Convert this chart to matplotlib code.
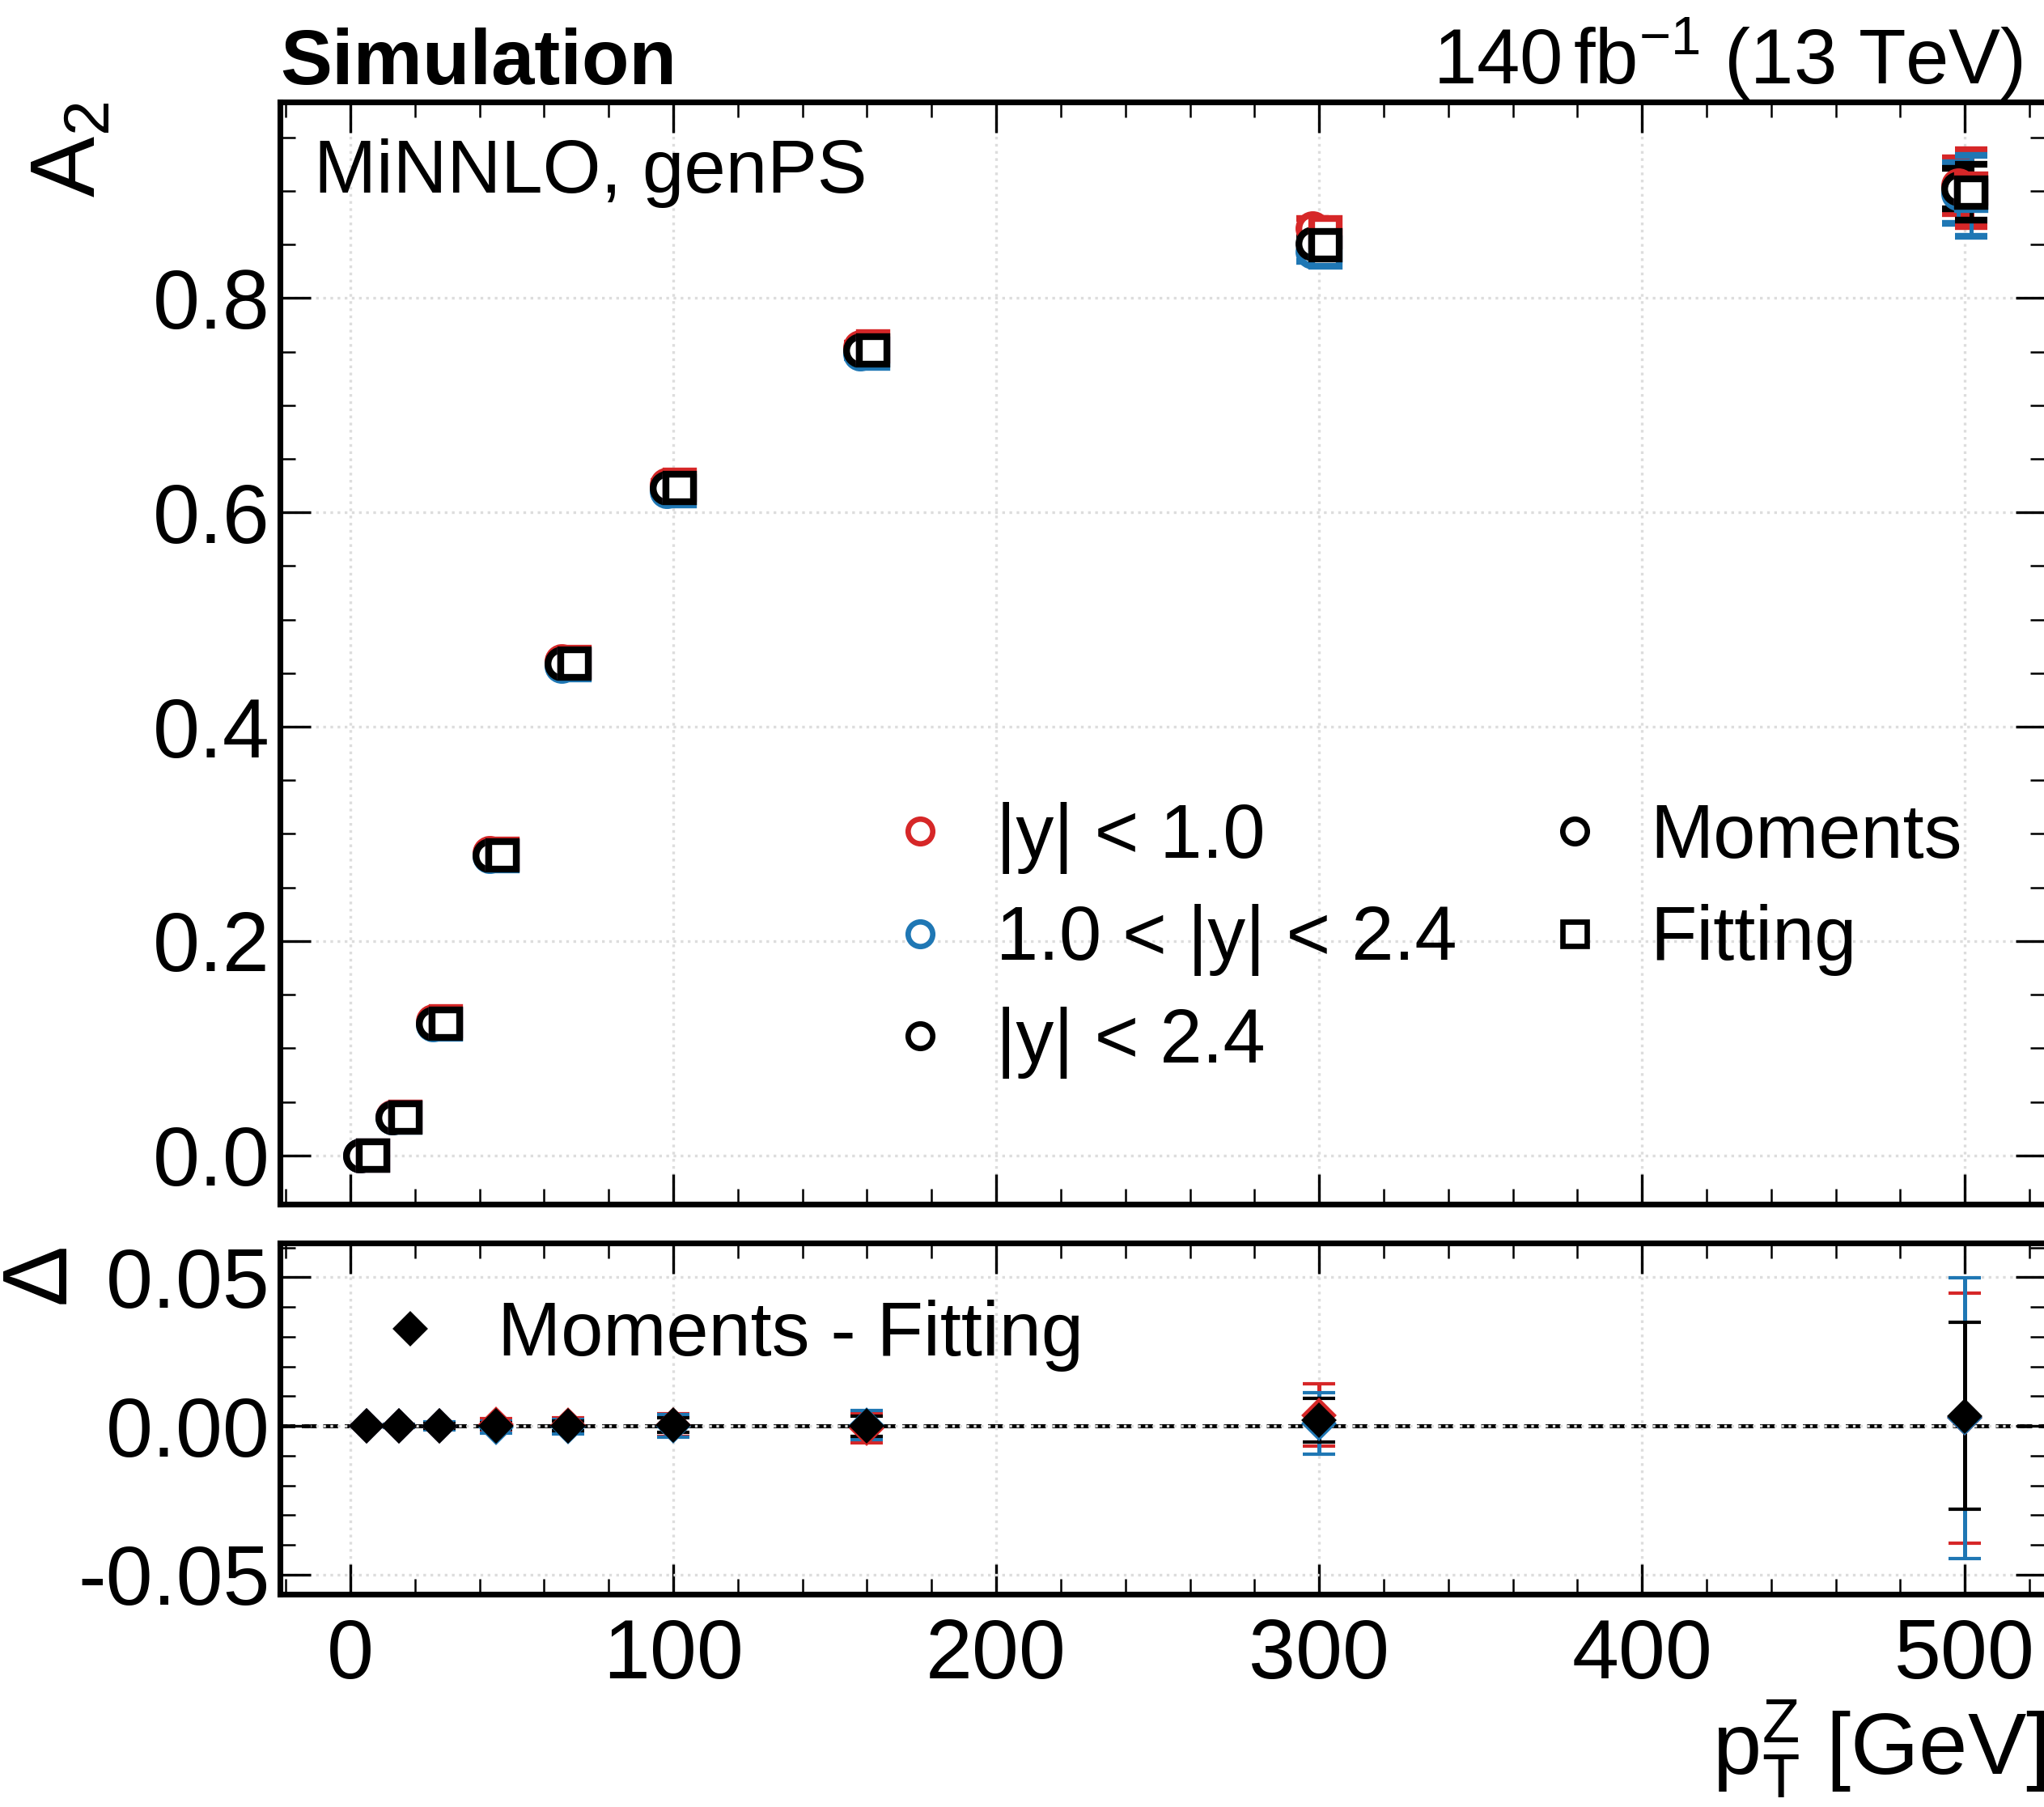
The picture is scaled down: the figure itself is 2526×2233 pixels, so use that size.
import numpy as np
import matplotlib
matplotlib.use("Agg")
import matplotlib.pyplot as plt
from matplotlib.lines import Line2D
from matplotlib.ticker import MultipleLocator, FormatStrFormatter

plt.rcParams["font.family"] = ["Liberation Sans", "DejaVu Sans"]
plt.rcParams["mathtext.fontset"] = "custom"
plt.rcParams["mathtext.rm"] = "Liberation Sans"
plt.rcParams["mathtext.it"] = "Liberation Sans"
plt.rcParams["mathtext.bf"] = "Liberation Sans:bold"
plt.rcParams["mathtext.default"] = "regular"
plt.rcParams["axes.unicode_minus"] = False

# pT(Z) bin centres [GeV]
pt_centers = [5, 15, 27.5, 45, 67.5, 100, 160, 300, 500]

rap_labels = ["|y| < 1.0", "1.0 < |y| < 2.4", "|y| < 2.4"]
rap_colors = ["#d62728", "#1f77b4", "black"]

# A2 extracted with moments
mom_central = [0.000, 0.036, 0.125, 0.282, 0.461, 0.626, 0.754, 0.865, 0.905]
mom_forward = [0.000, 0.035, 0.122, 0.279, 0.457, 0.620, 0.748, 0.843, 0.898]
mom_inclusive = [0.000, 0.035, 0.123, 0.280, 0.459, 0.623, 0.751, 0.851, 0.902]
err_mom_central = [0.0003, 0.0006, 0.0010, 0.0013, 0.0017, 0.0025, 0.004, 0.009, 0.026]
err_mom_forward = [0.0003, 0.0006, 0.0010, 0.0013, 0.0017, 0.0025, 0.004, 0.009, 0.028]
err_mom_inclusive = [0.0002, 0.0004, 0.0007, 0.0010, 0.0012, 0.0018, 0.003, 0.006, 0.019]

# A2 extracted with the template fit
fit_central = [0.000, 0.036, 0.125, 0.2815, 0.4608, 0.6257, 0.7548, 0.8614, 0.9024]
fit_forward = [0.000, 0.035, 0.122, 0.2795, 0.4572, 0.6200, 0.7478, 0.8422, 0.8954]
fit_inclusive = [0.000, 0.035, 0.123, 0.2800, 0.4590, 0.6228, 0.7511, 0.8491, 0.8986]
err_fit_central = [0.0003, 0.0006, 0.0010, 0.0013, 0.0017, 0.0025, 0.004, 0.011, 0.036]
err_fit_forward = [0.0003, 0.0006, 0.0010, 0.0013, 0.0017, 0.0025, 0.004, 0.011, 0.038]
err_fit_inclusive = [0.0002, 0.0004, 0.0007, 0.0010, 0.0012, 0.0018, 0.003, 0.008, 0.026]

# moments - fitting
diff_central = [0.0000, 0.0000, 0.0000, 0.0005, 0.0002, 0.0003, -0.0008, 0.0036, 0.0026]
diff_forward = [0.0000, 0.0000, 0.0000, -0.0005, -0.0002, 0.0000, 0.0002, 0.0008, 0.0026]
diff_inclusive = [0.0000, 0.0000, 0.0000, 0.0000, 0.0000, 0.0002, -0.0001, 0.0019, 0.0034]
err_diff_central = [0.0004, 0.0006, 0.0012, 0.0020, 0.0025, 0.0038, 0.0049, 0.0105, 0.0420]
err_diff_forward = [0.0004, 0.0006, 0.0013, 0.0020, 0.0025, 0.0038, 0.0049, 0.0103, 0.0472]
err_diff_inclusive = [0.0003, 0.0004, 0.0008, 0.0012, 0.0016, 0.0025, 0.0034, 0.0074, 0.0314]

W, H = 2526, 2233
fig = plt.figure(figsize=(W / 300, H / 300), dpi=300)
ax = fig.add_axes([346 / W, 1 - 1488 / H, (2528 - 346) / W, (1488 - 126) / H])
rax = fig.add_axes([346 / W, 1 - 1970 / H, (2528 - 346) / W, (1970 - 1536) / H], sharex=ax)

x = np.array(pt_centers)
shift = 2.0

mom_sets = [(mom_central, err_mom_central), (mom_forward, err_mom_forward), (mom_inclusive, err_mom_inclusive)]
fit_sets = [(fit_central, err_fit_central), (fit_forward, err_fit_forward), (fit_inclusive, err_fit_inclusive)]
diff_sets = [(diff_central, err_diff_central), (diff_forward, err_diff_forward), (diff_inclusive, err_diff_inclusive)]

for (vals, errs), col in zip(mom_sets, rap_colors):
    ax.errorbar(x - shift, vals, yerr=errs, fmt="o", ms=8.3, mew=2, mec=col, mfc="white",
                ecolor=col, elinewidth=1.2, capsize=4.8, capthick=2, zorder=3)
for (vals, errs), col in zip(fit_sets, rap_colors):
    ax.errorbar(x + shift, vals, yerr=errs, fmt="s", ms=8.3, mew=2, mec=col, mfc="white",
                ecolor=col, elinewidth=1.2, capsize=4.8, capthick=2, zorder=4)

rax.axhline(0, color="black", ls="--", lw=1.2, zorder=1)
for (vals, errs), col in zip(diff_sets, rap_colors):
    rax.errorbar(x, vals, yerr=errs, fmt="D", ms=6.3, mew=1, mec=col, mfc=col,
                 ecolor=col, elinewidth=1.2, capsize=4.8, capthick=1, zorder=3)

for a in (ax, rax):
    a.set_xlim(-21.8, 525)
    a.xaxis.set_major_locator(MultipleLocator(100))
    a.xaxis.set_minor_locator(MultipleLocator(20))
    a.tick_params(which="both", direction="in", top=True, right=True, labelsize=25)
    a.tick_params(which="major", length=9, width=0.8)
    a.tick_params(which="minor", length=4.5, width=0.6)
    a.tick_params(axis="x", pad=7)
    a.tick_params(axis="y", pad=3)
    a.grid(True, which="major", ls=":", lw=0.8, color="#dddddd", zorder=0)
    for s in a.spines.values():
        s.set_linewidth(1.7)

ax.set_ylim(-0.0455, 0.983)
ax.yaxis.set_major_locator(MultipleLocator(0.2))
ax.yaxis.set_minor_locator(MultipleLocator(0.05))
ax.yaxis.set_major_formatter(FormatStrFormatter("%.1f"))
ax.tick_params(axis="x", labelbottom=False)

rax.set_ylim(-0.0566, 0.0615)
rax.yaxis.set_major_locator(MultipleLocator(0.05))
rax.yaxis.set_minor_locator(MultipleLocator(0.01))
rax.yaxis.set_major_formatter(FormatStrFormatter("%.2f"))

ax.set_ylabel("$A_{2}$", fontsize=27, loc="top")
ax.yaxis.set_label_coords(-0.094, 1.0)
rax.set_ylabel("Δ", fontsize=27, loc="top")
rax.yaxis.set_label_coords(-0.111, 1.0)
rax.set_xlabel("$p_{T}^{Z}$ [GeV]", fontsize=26, loc="right")
rax.xaxis.set_label_coords(1.0, -0.295)

# legends
h_rap = [Line2D([], [], ls="none", marker="o", ms=7.3, mew=1.6, mec=c, mfc="white") for c in rap_colors]
leg1 = ax.legend(h_rap, rap_labels, loc="upper left", bbox_to_anchor=(1090 / W, 1 - 991 / H),
                 bbox_transform=fig.transFigure, frameon=False, fontsize=22.5, handlelength=1.0,
                 handletextpad=0.5, labelspacing=0.40, borderpad=0, borderaxespad=0)
ax.add_artist(leg1)
h_meth = [Line2D([], [], ls="none", marker="o", ms=7.3, mew=1.6, mec="black", mfc="white"),
          Line2D([], [], ls="none", marker="s", ms=7.3, mew=1.6, mec="black", mfc="white")]
ax.legend(h_meth, ["Moments", "Fitting"], loc="upper left", bbox_to_anchor=(1899 / W, 1 - 991 / H),
          bbox_transform=fig.transFigure, frameon=False, fontsize=22.5, handlelength=1.0,
          handletextpad=0.5, labelspacing=0.40, borderpad=0, borderaxespad=0)
h_diff = [Line2D([], [], ls="none", marker="D", ms=6.3, mew=1, mec="black", mfc="black")]
rax.legend(h_diff, ["Moments - Fitting"], loc="upper left", bbox_to_anchor=(460 / W, 1 - 1606 / H),
           bbox_transform=fig.transFigure, frameon=False, fontsize=22.5, handlelength=1.0,
           handletextpad=0.65, borderpad=0, borderaxespad=0)

fig.text(346 / W, 1 - 104 / H, "Simulation", fontsize=23, fontweight="bold", ha="left", va="baseline")
fig.text(2500 / W, 1 - 104 / H, "140$\\,$fb$^{-1}$ (13 TeV)", fontsize=23, ha="right", va="baseline")
fig.text(388 / W, 1 - 238 / H, "MiNNLO, genPS", fontsize=22.2, ha="left", va="baseline")

fig.savefig("out.png", dpi=300)
